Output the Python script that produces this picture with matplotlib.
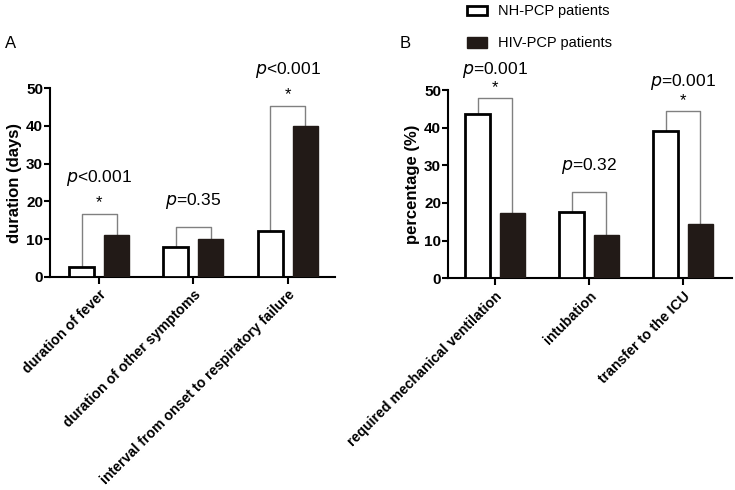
import matplotlib
matplotlib.use("Agg")
import matplotlib.pyplot as plt
from matplotlib.patches import Rectangle
import numpy as np

plt.rcParams['font.family'] = ['Liberation Sans', 'DejaVu Sans']

cats_a = ["duration of fever", "duration of other symptoms", "interval from onset to respiratory failure"]
nh_a = [2.5, 8, 12]
hiv_a = [11, 10, 40]
br_a = [16.6, 13.3, 45.3]
p_a = ["<0.001", "=0.35", "<0.001"]
star_a = [True, False, True]

cats_b = ["required mechanical ventilation", "intubation", "transfer to the ICU"]
nh_b = [43.5, 17.5, 39.1]
hiv_b = [17.3, 11.5, 14.4]
br_b = [47.8, 22.9, 44.5]
p_b = ["=0.001", "=0.32", "=0.001"]
star_b = [True, False, True]

legend_labels = ["NH-PCP patients", "HIV-PCP patients"]

DARK = '#221a17'
W, H = 735, 490
fig = plt.figure(figsize=(7.35, 4.9), dpi=100)

def fx(px): return px / W
def fy(py): return 1 - py / H

axA = fig.add_axes([fx(50), fy(276.7), fx(335) - fx(50), fy(88.3) - fy(276.7)])
axB = fig.add_axes([fx(448), fy(278.3), fx(732) - fx(448), fy(90) - fy(278.3)])

def panel(ax, cats, nh, hiv, br, pv, st, ylabel, xlim, p_off, star_off):
    x = np.arange(len(cats))
    off = 0.185
    w = 0.265
    ax.bar(x - off, nh, w, color='white', edgecolor='black', linewidth=2.0, zorder=3)
    ax.bar(x + off, hiv, w, color=DARK, edgecolor=DARK, linewidth=1.0, zorder=3)
    for i in range(len(cats)):
        ax.plot([x[i] - off, x[i] - off, x[i] + off, x[i] + off],
                [nh[i], br[i], br[i], hiv[i]], color='#808080', lw=1.0,
                zorder=2, clip_on=False)
        if st[i]:
            ax.text(x[i], br[i] + star_off, '*', ha='center', va='center',
                    fontsize=12, clip_on=False)
        ax.text(x[i], br[i] + (p_off if st[i] else 6.8), r'$\it{p}$' + pv[i],
                ha='center', va='center', fontsize=12.5, clip_on=False)
    ax.set_xlim(*xlim)
    ax.set_ylim(0, 50)
    ax.set_yticks([0, 10, 20, 30, 40, 50])
    ax.set_xticks(x)
    ax.set_xticklabels(cats, rotation=45, ha='right', rotation_mode='anchor',
                       fontsize=10.2, fontweight='bold')
    for lbl in ax.get_yticklabels():
        lbl.set_fontweight('bold')
        lbl.set_fontsize(11)
    ax.set_ylabel(ylabel, fontsize=12, fontweight='bold', labelpad=3)
    for s in ['top', 'right']:
        ax.spines[s].set_visible(False)
    for s in ['left', 'bottom']:
        ax.spines[s].set_linewidth(1.5)
    ax.tick_params(axis='y', length=4, width=1.5, pad=1)
    ax.tick_params(axis='x', length=5, width=1.5, pad=3)

panel(axA, cats_a, nh_a, hiv_a, br_a, p_a, star_a, 'duration (days)', (-0.52, 2.50), 9.6, 3.0)
panel(axB, cats_b, nh_b, hiv_b, br_b, p_b, star_b, 'percentage (%)', (-0.50, 2.52), 7.6, 2.8)

fig.text(fx(5), fy(44), 'A', fontsize=12, va='center', ha='left')
fig.text(fx(400), fy(44), 'B', fontsize=12, va='center', ha='left')

# legend
fig.patches.append(Rectangle((fx(467), fy(15)), fx(20), fy(6) - fy(15),
                             transform=fig.transFigure, facecolor='white',
                             edgecolor='black', linewidth=2.0))
fig.patches.append(Rectangle((fx(467), fy(48)), fx(20), fy(37) - fy(48),
                             transform=fig.transFigure, facecolor=DARK,
                             edgecolor=DARK, linewidth=1.0))
fig.text(fx(498), fy(10.5), legend_labels[0], fontsize=10.5, va='center', ha='left')
fig.text(fx(498), fy(43), legend_labels[1], fontsize=10.5, va='center', ha='left')

fig.savefig('out.png', dpi=100)
